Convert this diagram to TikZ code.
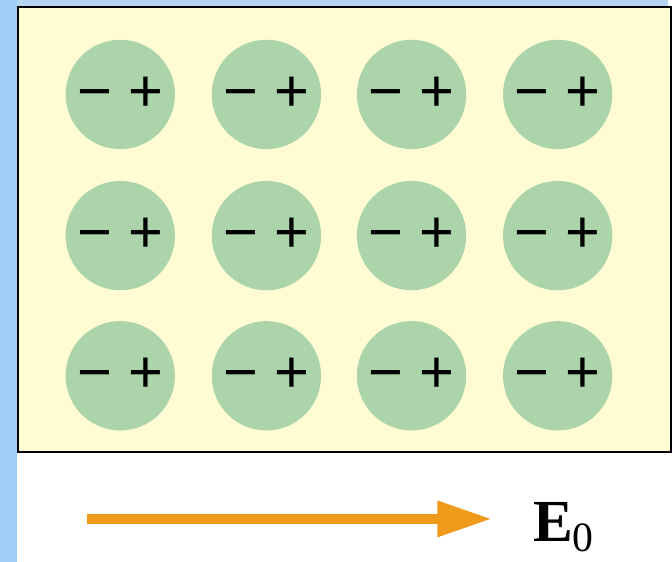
\documentclass[tikz,border=0pt]{standalone}
\usepackage{fontspec}
\setmainfont{Liberation Serif}
\newfontfamily\chargefont{Liberation Sans}
\usetikzlibrary{arrows.meta}

\definecolor{slideblue}{HTML}{A0CCF7}
\definecolor{slidetop}{HTML}{B6D5F2}
\definecolor{mediumyellow}{HTML}{FFFBD2}
\definecolor{dipolegreen}{HTML}{ABD4AA}
\definecolor{fieldorange}{HTML}{F09A1C}

\begin{document}
\begin{tikzpicture}[
  x=1pt, y=-1pt,
  dipole/.style={circle, fill=dipolegreen, minimum size=110pt, inner sep=0pt,
                 font=\chargefont\fontsize{60}{60}\selectfont},
  field/.style={line width=10pt, draw=fieldorange,
                -{Triangle[length=55pt, width=34pt, fill=fieldorange]}}
]

% slide background
\fill[slideblue] (0,0) rectangle (672,565);
\fill[slidetop] (17,0) rectangle (672,6);
\fill[white] (17,456) rectangle (672,565);

% dielectric block
\draw[fill=mediumyellow, line width=2pt] (18,7) rectangle (675,455);

% 3 x 4 polarised molecules
\foreach \row/\y in {1/95, 2/237, 3/378} {
  \foreach \col/\x in {1/121, 2/268, 3/414, 4/561} {
    \node[dipole] (d\row\col) at (\x,\y) {− +};
  }
}

% applied field
\coordinate (e start) at (88,522);
\coordinate (e end) at (495,522);
\draw[field] (e start) -- (e end);
\node[anchor=base west, inner sep=0pt, font=\fontsize{60}{60}\selectfont] (elabel) at (536,545)
  {\textbf{E}\raisebox{-10pt}{\fontsize{42}{42}\selectfont 0}};

\useasboundingbox (0,0) rectangle (672,565);
\end{tikzpicture}
\end{document}
